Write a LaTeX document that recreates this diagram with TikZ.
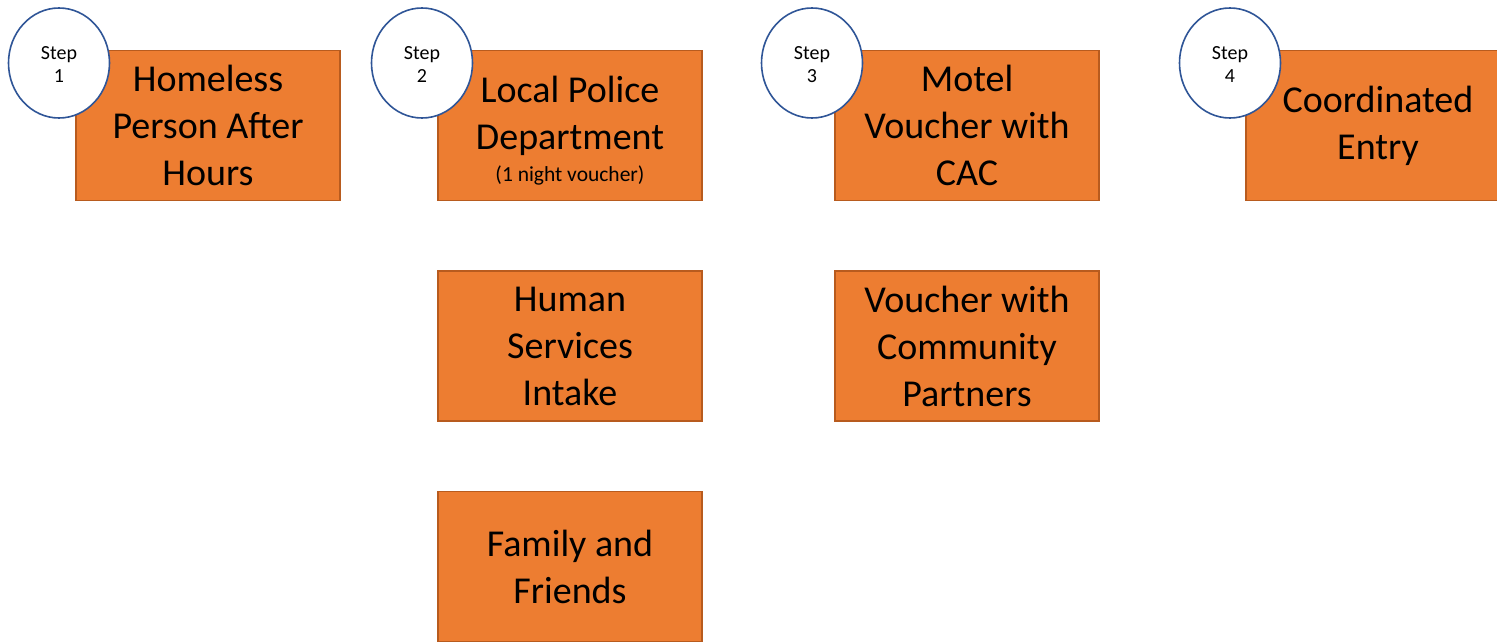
\documentclass[tikz,border=0pt]{standalone}
\usepackage{fontspec}
\setmainfont{Carlito}
\usetikzlibrary{shapes.geometric}
\definecolor{boxfill}{HTML}{ED7D31}
\definecolor{boxline}{HTML}{B85B1E}
\definecolor{circline}{HTML}{2F5597}
\tikzset{
  bigtext/.style={font=\fontsize{38}{47}\selectfont},
  box/.style={draw=boxline, line width=1.5pt, fill=boxfill, minimum width=264pt, minimum height=150pt, inner sep=0pt, align=center, bigtext, text=black},
  stepcirc/.style={draw=circline, line width=1.6pt, fill=white, ellipse, minimum width=101pt, minimum height=110pt, inner sep=0pt},
  steplabel/.style={align=center, font=\fontsize{20}{23}\selectfont},
  subtext/.style={font=\fontsize{21.5}{24}\selectfont}
}
\begin{document}
\begin{tikzpicture}[x=1pt,y=-1pt]
\useasboundingbox (0,0) rectangle (1497,642);
\clip (0,0) rectangle (1497,642);
\node[box] (b1) at (208,125.5) {Homeless\\Person After\\Hours};
\node[box] (b2) at (570,125.5) {};
\node[bigtext, align=center] (b2a) at (570,115.5) {Local Police\\Department};
\node[subtext] (b2b) at (570,175) {(1 night voucher)};
\node[box] (b3) at (967,125.5) {Motel\\Voucher with\\CAC};
\node[box] (b4) at (1378,125.5) {Coordinated\\Entry};
\node[box] (h1) at (570,346) {Human\\Services\\Intake};
\node[box] (h2) at (967,346) {Voucher with\\Community\\Partners};
\node[box] (f1) at (570,566.5) {Family and\\Friends};
\node[stepcirc] (s1) at (59,63) {};
\node[stepcirc] (s2) at (422,63) {};
\node[stepcirc] (s3) at (812,63) {};
\node[stepcirc] (s4) at (1230,63) {};
\node[steplabel] (t1) at (59,65) {Step\\1};
\node[steplabel] (t2) at (422,65) {Step\\2};
\node[steplabel] (t3) at (812,65) {Step\\3};
\node[steplabel] (t4) at (1230,65) {Step\\4};
\end{tikzpicture}
\end{document}
